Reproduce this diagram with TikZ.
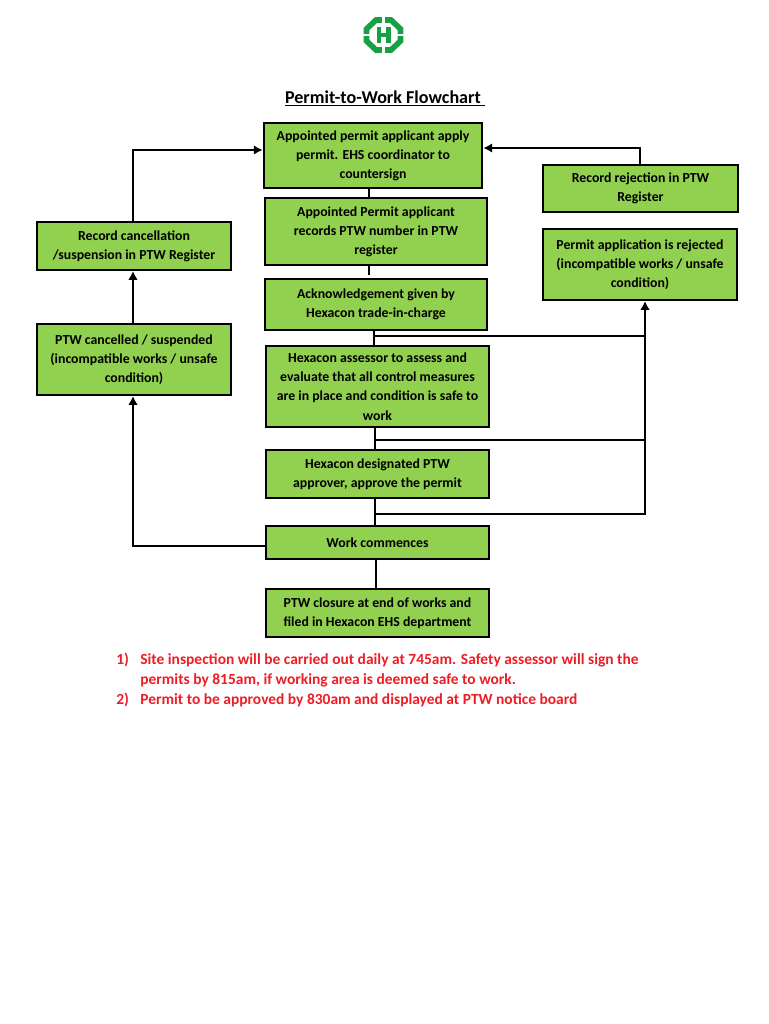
\documentclass[tikz,border=0pt]{standalone}
\usepackage{xcolor}
\usepackage{fontspec}
\setmainfont{Carlito}
\usepackage{tikz}
\usetikzlibrary{arrows.meta}
\definecolor{G0}{HTML}{92d050}
\definecolor{L0}{HTML}{17a045}
\definecolor{R0}{HTML}{ee1c25}
\tikzset{
  pbox/.style={draw, line width=1.2pt, fill=G0, align=center, inner sep=0pt, font=\fontsize{7.85}{10.9}\selectfont\bfseries},
  pboxb/.style={pbox, line width=1.6pt},
  plink/.style={line width=1.6pt},
  parrow/.style={line width=1.6pt, -{Latex[length=5pt,width=5.5pt]}},
  pnote/.style={anchor=base west, inner sep=0pt, text=R0, font=\fontsize{8.8}{10}\selectfont\bfseries},
}
\begin{document}
\begin{tikzpicture}[x=0.02cm, y=-0.02cm]%
\useasboundingbox (0,0) rectangle (768,1024);%
% logo
\draw[L0, line width=3.2pt] (376,20) -- (391,20) -- (400.5,29) -- (400.5,41) -- (391,50) -- (376,50) -- (366.5,41) -- (366.5,29) -- cycle;%
\fill[white] (382,15) rectangle (384.5,24);%
\fill[white] (382,46) rectangle (384.5,55);%
\fill[white] (362,34) rectangle (371,36);%
\fill[white] (396,34) rectangle (405,36);%
\fill[L0] (376.5,27) rectangle (381,43);%
\fill[L0] (386,27) rectangle (390.5,43);%
\fill[L0] (376.5,33) rectangle (390.5,37.5);%
% title
\node[font=\fontsize{10.3}{12}\selectfont\bfseries, inner sep=0pt] (title) at (385,98.5) {\underline{Permit-to-Work Flowchart\ }};%
% middle column
\node[pboxb, minimum width=218*0.02cm, minimum height=65*0.02cm] (apply) at (373,155.5) {Appointed permit applicant apply\\permit. EHS coordinator to\\countersign};%
\node[pbox, minimum width=222*0.02cm, minimum height=67*0.02cm] (records) at (376,231.5) {Appointed Permit applicant\\records PTW number in PTW\\register};%
\node[pboxb, minimum width=222*0.02cm, minimum height=51*0.02cm] (ack) at (376,304.5) {Acknowledgement given by\\Hexacon trade-in-charge};%
\node[pbox, minimum width=223*0.02cm, minimum height=81*0.02cm] (assess) at (377.5,386.5) {Hexacon assessor to assess and\\evaluate that all control measures\\are in place and condition is safe to\\work};%
\node[pboxb, minimum width=223*0.02cm, minimum height=48*0.02cm] (approve) at (377.5,474) {Hexacon designated PTW\\approver, approve the permit};%
\node[pboxb, minimum width=223*0.02cm, minimum height=33*0.02cm] (work) at (377.5,542.5) {Work commences};%
\node[pboxb, minimum width=223*0.02cm, minimum height=48*0.02cm] (closure) at (377.5,613) {PTW closure at end of works and\\filed in Hexacon EHS department};%
% left column
\node[pbox, minimum width=194*0.02cm, minimum height=48*0.02cm] (cancelrec) at (134,246) {Record cancellation\\/suspension in PTW Register};%
\node[pbox, minimum width=194*0.02cm, minimum height=71*0.02cm] (cancelled) at (134,359.5) {PTW cancelled / suspended\\(incompatible works / unsafe\\condition)};%
% right column
\node[pbox, minimum width=195*0.02cm, minimum height=47*0.02cm] (rejectrec) at (640.5,188.5) {Record rejection in PTW\\Register};%
\node[pbox, minimum width=194*0.02cm, minimum height=71*0.02cm] (rejected) at (640,264.5) {Permit application is rejected\\(incompatible works / unsafe\\condition)};%
% helper points
\coordinate (stubtop) at (369,275);%
\coordinate (tA) at (374,336);%
\coordinate (tB) at (375,440);%
\coordinate (tC) at (375,514);%
\coordinate (tD) at (376,590);%
\coordinate (riser) at (645,514);%
\coordinate (lefttop) at (133,150);%
\coordinate (leftbot) at (133,546);%
\coordinate (righttop) at (640,148);%
% connectors
\draw[plink] (apply.south -| stubtop) -- (records.north -| stubtop);%
\draw[plink] (records.south -| stubtop) -- (stubtop);%
\draw[plink] (ack.south -| tA) -- (assess.north -| tA);%
\draw[plink] (assess.south -| tB) -- (approve.north -| tB);%
\draw[plink] (approve.south -| tC) -- (work.north -| tC);%
\draw[plink] (work.south -| tD) -- (closure.north -| tD);%
\draw[line width=1.2pt] (tA) -- (riser |- tA);%
\draw[plink] (tB) -- (riser |- tB);%
\draw[parrow] (tC) -- (riser) -- (rejected.south -| riser);%
\draw[parrow] (work.west |- leftbot) -- (leftbot) -- (cancelled.south -| leftbot);%
\draw[parrow] (cancelled.north -| leftbot) -- (cancelrec.south -| leftbot);%
\draw[parrow] (cancelrec.north -| lefttop) -- (lefttop) -- (apply.west |- lefttop);%
\draw[parrow] (rejectrec.north -| righttop) -- (righttop) -- (apply.east |- righttop);%
% notes
\node[pnote] (numa) at (116,664) {1)};%
\node[pnote] (notea) at (140,664) {Site inspection will be carried out daily at 745am. Safety assessor will sign the};%
\node[pnote] (noteb) at (140,684) {permits by 815am, if working area is deemed safe to work.};%
\node[pnote] (numb) at (116,704.5) {2)};%
\node[pnote] (notec) at (140,704.5) {Permit to be approved by 830am and displayed at PTW notice board};%
\end{tikzpicture}
\end{document}
